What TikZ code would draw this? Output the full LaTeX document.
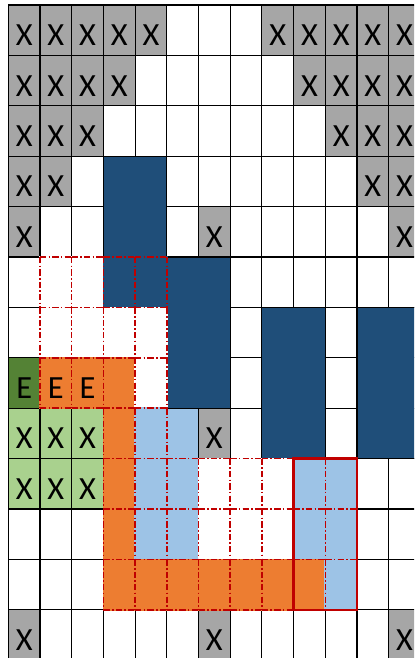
\documentclass[tikz,border=0pt]{standalone}
\usepackage{fontspec}
\setmainfont{Carlito}
\usetikzlibrary{positioning}
\definecolor{cellgray}{HTML}{A6A6A6}
\definecolor{navy}{HTML}{1F4E79}
\definecolor{leaf}{HTML}{548235}
\definecolor{lightleaf}{HTML}{A9D18E}
\definecolor{carrot}{HTML}{ED7D31}
\definecolor{sky}{HTML}{9DC3E6}
\definecolor{brick}{HTML}{C00000}
\begin{document}
\begin{tikzpicture}[
        x=0.7925cm, y={(0cm,-1.26cm)},
        font=\fontsize{23}{27}\selectfont,
        gridline/.style={draw=black, line width=0.75pt},
        block/.style={fill=navy, draw=black, line width=0.75pt},
        letter/.style={inner sep=0pt, text=black},
        trail/.style={draw=brick, line width=1.1pt, dash pattern=on 4.5pt off 1.6pt on 1.1pt off 1.6pt},
        frame/.style={draw=brick, line width=1.7pt}
    ]

    \useasboundingbox (-0.2618,-0.0992) rectangle (12.798,12.956);
    \clip (-0.2618,-0.0992) rectangle (12.798,12.956);
    \fill[white] (-0.2618,-0.0992) rectangle (12.798,12.956);

    \foreach \r/\cols in {0/{0,1,2,3,4,8,9,10,11,12}, 1/{0,1,2,3,9,10,11,12}, 2/{0,1,2,10,11,12},
                          3/{0,1,11,12}, 4/{0,6,12}, 8/{6}, 12/{0,6,12}} {
        \foreach \c in \cols {
            \fill[cellgray] (\c,\r) rectangle ++(1,1);
            \node[letter] (x-\r-\c) at (\c+0.5,\r+0.6) {X};
        }
    }
    \foreach \r/\c in {8/0, 8/1, 8/2, 9/0, 9/1, 9/2} {
        \fill[lightleaf] (\c,\r) rectangle ++(1,1);
        \node[letter] (x-\r-\c) at (\c+0.5,\r+0.6) {X};
    }
    \fill[leaf] (0,7) rectangle ++(1,1);
    \fill[sky] (5,8) rectangle ++(1,1);

    \foreach \k in {0,...,13} {
        \draw[gridline] (\k,0) -- (\k,13);
        \draw[gridline] (0,\k) -- (13,\k);
    }

    \foreach \c/\r in {3/3, 5/5, 8/6, 11/6}
        \filldraw[block] (\c,\r) rectangle ++(2,3);

    \foreach \r/\c/\tint in {5/1/white, 5/2/white, 5/3/navy, 5/4/navy,
                             6/1/white, 6/2/white, 6/3/white, 6/4/white,
                             7/1/carrot, 7/2/carrot, 7/3/carrot, 7/4/white,
                             8/3/carrot, 8/4/sky,
                             9/3/carrot, 9/4/sky, 9/5/sky, 9/6/white, 9/7/white, 9/8/white, 9/9/sky, 9/10/sky,
                             10/3/carrot, 10/4/sky, 10/5/sky, 10/6/white, 10/7/white, 10/8/white, 10/9/sky, 10/10/sky,
                             11/3/carrot, 11/4/carrot, 11/5/carrot, 11/6/carrot, 11/7/carrot, 11/8/carrot, 11/9/carrot, 11/10/sky}
        \path[fill=\tint, draw=\tint, line width=1.2pt] (\c,\r) rectangle ++(1,1);
    \foreach \r/\c in {5/1, 5/2, 5/3, 5/4, 6/1, 6/2, 6/3, 6/4, 7/1, 7/2, 7/3, 7/4, 8/3, 8/4,
                       9/3, 9/4, 9/5, 9/6, 9/7, 9/8, 9/9, 9/10,
                       10/3, 10/4, 10/5, 10/6, 10/7, 10/8, 10/9, 10/10,
                       11/3, 11/4, 11/5, 11/6, 11/7, 11/8, 11/9, 11/10}
        \draw[trail] (\c,\r) -- ++(1,0) (\c,\r+1) -- ++(1,0) (\c,\r) -- ++(0,1) (\c+1,\r) -- ++(0,1);

    \draw[frame] (9,9) rectangle (11,12);

    \foreach \c in {0,1,2}
        \node[letter] (e-7-\c) at (\c+0.5,7.6) {E};

\end{tikzpicture}
\end{document}
